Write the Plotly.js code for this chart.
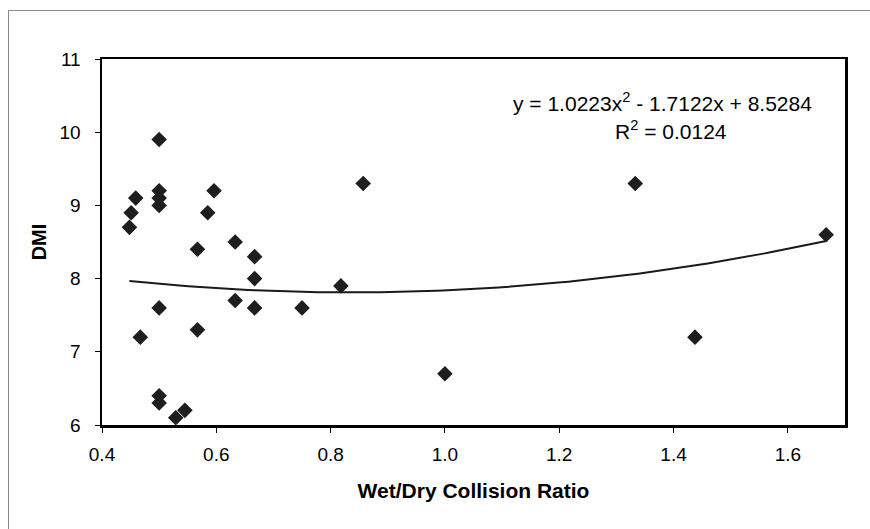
<!DOCTYPE html>
<html>
<head>
<meta charset="utf-8">
<script src="https://cdn.plot.ly/plotly-3.0.1.min.js"></script>
<style>
  html, body { margin: 0; padding: 0; background: #fff; }
  #wrap { position: relative; width: 870px; height: 529px; overflow: hidden; }
  #chart { position: absolute; left: 0; top: 0; width: 870px; height: 529px; }
  #frame { position: absolute; left: 8px; top: 10px; width: 880px; height: 540px;
           border: 1px solid #8a8a8a; pointer-events: none; }
</style>
</head>
<body>
<div id="wrap">
  <div id="chart"></div>
  <div id="frame"></div>
</div>
<script>
// Data
const ratio = [0.500, 0.459, 0.451, 0.448, 0.500, 0.500, 0.500, 0.596, 0.585, 0.567,
               0.633, 0.667, 0.667, 0.633, 0.667, 0.500, 0.467, 0.567, 0.500, 0.500,
               0.529, 0.545, 0.857, 0.818, 0.750, 1.000, 1.333, 1.667, 1.4375];
const dmi   = [9.9, 9.1, 8.9, 8.7, 9.2, 9.1, 9.0, 9.2, 8.9, 8.4,
               8.5, 8.3, 8.0, 7.7, 7.6, 7.6, 7.2, 7.3, 6.4, 6.3,
               6.1, 6.2, 9.3, 7.9, 7.6, 6.7, 9.3, 8.6, 7.2];
// Polynomial trendline coefficients shown on the chart: a*x^2 + b*x + c
const trendCoef = [1.0223, -1.7122, 8.5284];
const trendLabel = ['y = 1.0223x<sup>2</sup> - 1.7122x + 8.5284', 'R<sup>2</sup> = 0.0124'];
const xTicks = [0.4, 0.6, 0.8, 1.0, 1.2, 1.4, 1.6];
const xTickText = ['0.4', '0.6', '0.8', '1.0', '1.2', '1.4', '1.6'];
const yTicks = [6, 7, 8, 9, 10, 11];

// Trendline evaluated across the data range
const xMin = Math.min(...ratio), xMax = Math.max(...ratio);
const tx = [], ty = [];
for (let i = 0; i <= 100; i++) {
  const x = xMin + (xMax - xMin) * i / 100;
  tx.push(x);
  ty.push(trendCoef[0] * x * x + trendCoef[1] * x + trendCoef[2]);
}

const font = 'Liberation Sans, Arial, sans-serif';

const traces = [
  { x: tx, y: ty, mode: 'lines', type: 'scatter',
    line: { color: '#1a1a1a', width: 2 }, hoverinfo: 'skip', showlegend: false },
  { x: ratio, y: dmi, mode: 'markers', type: 'scatter',
    marker: { symbol: 'diamond', size: 12, color: '#1e1e1e', line: { width: 0 } },
    showlegend: false }
];

const layout = {
  width: 870, height: 529,
  margin: { l: 102, r: 25, t: 59, b: 104 },
  paper_bgcolor: '#ffffff', plot_bgcolor: '#ffffff',
  font: { family: font, color: '#000', size: 19 },
  xaxis: {
    range: [0.4, 1.7], tickvals: xTicks, ticktext: xTickText,
    ticks: 'outside', ticklen: 5, tickwidth: 1, tickcolor: '#000',
    ticklabelstandoff: 6,
    showgrid: false, zeroline: false,
    showline: true, linecolor: '#000', linewidth: 2.5, mirror: true,
    tickfont: { family: font, size: 19 },
    title: { text: 'Wet/Dry Collision Ratio', font: { family: font, size: 21, weight: 'bold' }, standoff: 19 }
  },
  yaxis: {
    range: [6, 11], tickvals: yTicks,
    ticks: 'outside', ticklen: 5, tickwidth: 1, tickcolor: '#000',
    ticklabelstandoff: 10,
    showgrid: false, zeroline: false,
    showline: true, linecolor: '#000', linewidth: 2.5, mirror: true,
    tickfont: { family: font, size: 19 },
    title: { text: 'DMI', font: { family: font, size: 20, weight: 'bold' }, standoff: 8 }
  },
  annotations: [
    { xref: 'paper', yref: 'paper', x: 0.754, y: 0.8825, xanchor: 'center', yanchor: 'middle',
      text: trendLabel[0], showarrow: false, font: { family: font, size: 21, color: '#000' } },
    { xref: 'paper', yref: 'paper', x: 0.766, y: 0.806, xanchor: 'center', yanchor: 'middle',
      text: trendLabel[1], showarrow: false, font: { family: font, size: 21, color: '#000' } }
  ]
};

Plotly.newPlot('chart', traces, layout, { displayModeBar: false, staticPlot: true });
</script>
</body>
</html>
